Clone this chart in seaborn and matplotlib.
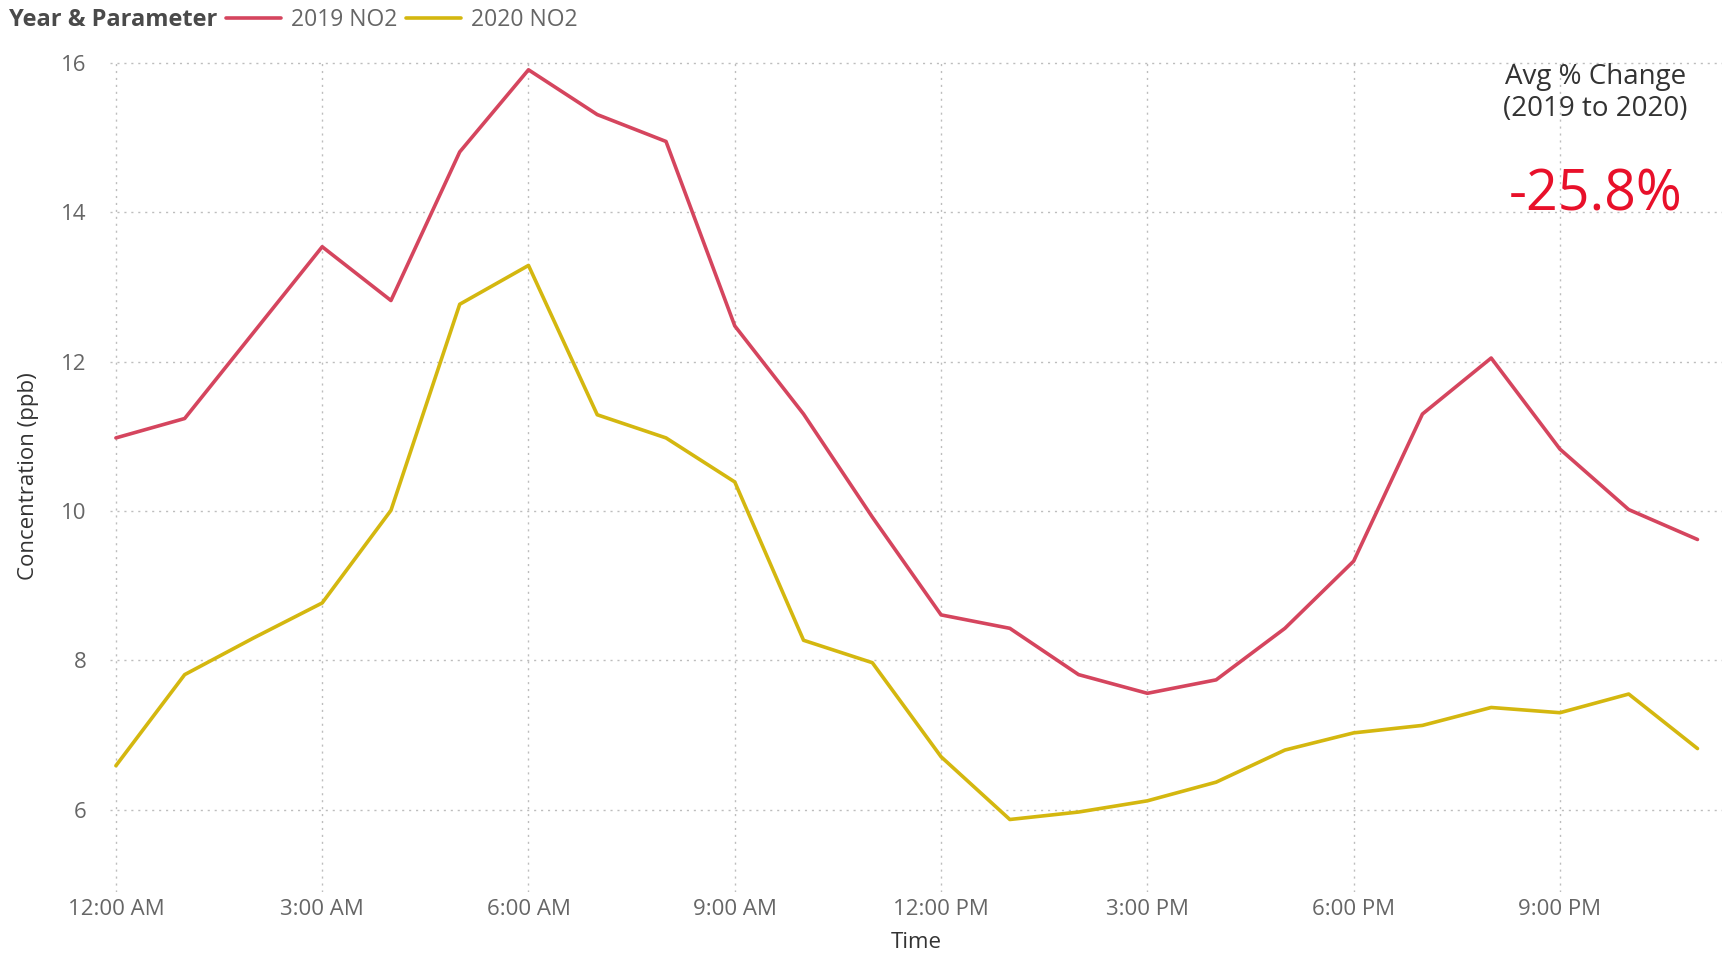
import matplotlib
matplotlib.use("Agg")
import matplotlib.pyplot as plt
import seaborn as sns
import pandas as pd
from matplotlib.lines import Line2D

hours = list(range(24))
no2_2019 = [10.98, 11.24, 12.39, 13.54, 12.82, 14.81, 15.91, 15.31, 14.95, 12.48,
            11.30, 9.92, 8.61, 8.43, 7.81, 7.56, 7.74, 8.43, 9.33, 11.30,
            12.05, 10.83, 10.02, 9.62]
no2_2020 = [6.59, 7.81, 8.30, 8.77, 10.01, 12.77, 13.29, 11.29, 10.98, 10.39,
            8.27, 7.97, 6.71, 5.87, 5.97, 6.12, 6.37, 6.80, 7.03, 7.13,
            7.37, 7.30, 7.55, 6.82]
series_names = ["2019 NO2", "2020 NO2"]
tick_hours = [0, 3, 6, 9, 12, 15, 18, 21]
tick_labels = ["12:00 AM", "3:00 AM", "6:00 AM", "9:00 AM",
               "12:00 PM", "3:00 PM", "6:00 PM", "9:00 PM"]
y_ticks = [6, 8, 10, 12, 14, 16]
kpi_title = "Avg % Change\n(2019 to 2020)"
kpi_value = "-25.8%"

colors = {"2019 NO2": "#D5455E", "2020 NO2": "#D4B70F"}

df = pd.DataFrame({
    "hour": hours * 2,
    "value": no2_2019 + no2_2020,
    "series": [series_names[0]] * 24 + [series_names[1]] * 24,
})

sns.set_theme(style="white")
plt.rcParams["font.family"] = ["Open Sans", "DejaVu Sans"]

fig = plt.figure(figsize=(17.25, 9.57), dpi=100)
ax = fig.add_axes([0.064, 0.068, 0.934, 0.870])

sns.lineplot(data=df, x="hour", y="value", hue="series", palette=colors,
             linewidth=2.6, ax=ax, legend=False)

ax.set_xlim(-0.08, 23.35)
ax.set_ylim(4.9, 16.05)
ax.set_xticks(tick_hours)
ax.set_xticklabels(tick_labels)
ax.set_yticks(y_ticks)
ax.tick_params(axis="x", labelsize=16, colors="#666666", length=0, pad=5)
ax.tick_params(axis="y", labelsize=16, colors="#666666", length=0, pad=17)
ax.grid(True, linestyle=(0, (1.5, 3.5)), color="#bdbdbd", linewidth=1.0)
for s in ax.spines.values():
    s.set_visible(False)

ax.set_xlabel("Time", fontsize=16, color="#333333", labelpad=9)
ax.set_ylabel("Concentration (ppb)", fontsize=16, color="#333333", labelpad=16)

# legend row
fig.text(0.005, 0.979, "Year & Parameter", fontsize=17, fontweight="bold",
         color="#4a4a4a", va="center", ha="left")
handles = [Line2D([0], [0], color=colors[n], lw=2.6) for n in series_names]
fig.legend(handles, series_names, loc="center left", bbox_to_anchor=(0.131, 0.979),
           ncol=2, frameon=False, fontsize=16.5, labelcolor="#666666",
           handlelength=2.4, handletextpad=0.45, columnspacing=0.35,
           borderaxespad=0, borderpad=0)

# KPI card
fig.text(0.925, 0.903, kpi_title, fontsize=20, color="#333333",
         ha="center", va="center", linespacing=1.2)
fig.text(0.925, 0.795, kpi_value, fontsize=40, color="#E8102A",
         ha="center", va="center")

fig.savefig("out.png", dpi=100, facecolor="white")
